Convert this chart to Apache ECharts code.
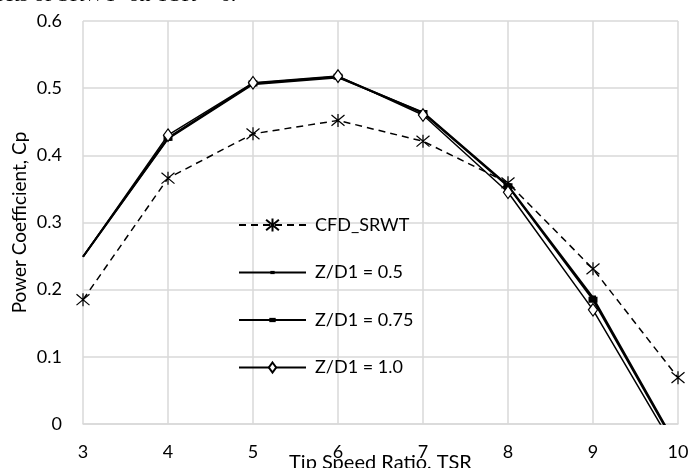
<!DOCTYPE html>
<html>
<head>
<meta charset="utf-8">
<script src="https://cdn.jsdelivr.net/npm/echarts@6/dist/echarts.min.js"></script>
<style>
  html, body { margin: 0; padding: 0; background: #fff; }
  #chart { width: 690px; height: 468px; }
</style>
</head>
<body>
<div id="chart"></div>
<script>
const tsr = [3, 4, 5, 6, 7, 8, 9, 10];
const cfdSrwt = [0.185, 0.366, 0.432, 0.452, 0.421, 0.359, 0.231, 0.069];
const zd05 = [0.249, 0.425, 0.506, 0.516, 0.464, 0.355, 0.188, -0.036];
const zd075 = [0.249, 0.426, 0.507, 0.517, 0.463, 0.354, 0.185, -0.038];
const zd10 = [0.249, 0.430, 0.508, 0.518, 0.460, 0.345, 0.170, -0.045];
const seriesNames = ["CFD_SRWT", "Z/D1 = 0.5", "Z/D1 = 0.75", "Z/D1 = 1.0"];

const font = "Lato, 'Open Sans', sans-serif";
// marker shapes, padded with move-to points so the legend draws them small
const star = "path://M0,0L10,10M10,0L0,10M5,-1L5,11";
const smallDash = "path://M0,0M12,12M4,4.5h4v3h-4z";
const wideDash = "path://M0,0M12,12M3,4h6v4h-6z";
const diamond = "path://M0,0M14,14M7,1.5L11,7L7,12.5L3,7z";

// the Z/D1 curves show no marker at the first point
const pairs = (values, hideFirst) => tsr.map((x, i) =>
  hideFirst && i === 0 ? { value: [x, values[i]], symbol: "none" } : [x, values[i]]);

const chart = echarts.init(document.getElementById("chart"));

chart.setOption({
  animation: false,
  graphic: [
    {
      type: "text",
      left: -6,
      top: -16,
      style: {
        text: "ects of SRWT  on TSR = 6.",
        font: "22px 'Liberation Serif', serif",
        fill: "#000",
      },
    },
  ],
  grid: {
    left: 83,
    right: 12,
    top: 21,
    bottom: 44,
    outerBoundsMode: "none",
    containLabel: false,
  },
  legend: {
    orient: "vertical",
    left: 233,
    top: 211,
    itemWidth: 67,
    itemHeight: 16,
    itemGap: 29.5,
    data: seriesNames,
    textStyle: {
      fontFamily: font,
      fontSize: 18,
      color: "#000",
      padding: [0, 0, 0, 4],
    },
  },
  xAxis: {
    type: "value",
    min: 3,
    max: 10,
    interval: 1,
    name: "Tip Speed Ratio, TSR",
    nameLocation: "middle",
    nameGap: 29,
    nameMoveOverlap: false,
    nameTextStyle: { fontFamily: font, fontSize: 20, color: "#000" },
    axisLine: { lineStyle: { color: "#d9d9d9", width: 1.5 } },
    axisTick: { show: false },
    axisLabel: { fontFamily: font, fontSize: 18, color: "#000", margin: 19 },
    splitLine: { show: true, lineStyle: { color: "#d9d9d9", width: 1.5 } },
  },
  yAxis: {
    type: "value",
    min: 0,
    max: 0.6,
    interval: 0.1,
    name: "Power Coefficient, Cp",
    nameLocation: "middle",
    nameGap: 54,
    nameMoveOverlap: false,
    nameTextStyle: { fontFamily: font, fontSize: 19, color: "#000" },
    axisLine: { show: false },
    axisTick: { show: false },
    axisLabel: { fontFamily: font, fontSize: 18, color: "#000", margin: 21 },
    splitLine: { show: true, lineStyle: { color: "#d9d9d9", width: 1.5 } },
  },
  series: [
    {
      name: seriesNames[0],
      type: "line",
      data: pairs(cfdSrwt, false),
      symbol: star,
      symbolSize: 13,
      lineStyle: { color: "#000", width: 1.5, type: [7, 5] },
      itemStyle: { color: "#fff", borderColor: "#000", borderWidth: 1.2 },
      z: 2,
    },
    {
      name: seriesNames[1],
      type: "line",
      data: pairs(zd05, true),
      symbol: smallDash,
      symbolSize: 18,
      lineStyle: { color: "#000", width: 2 },
      itemStyle: { color: "#000", borderColor: "#000", borderWidth: 0 },
      z: 3,
    },
    {
      name: seriesNames[2],
      type: "line",
      data: pairs(zd075, true),
      symbol: wideDash,
      symbolSize: 18,
      lineStyle: { color: "#000", width: 2 },
      itemStyle: { color: "#000", borderColor: "#000", borderWidth: 0 },
      z: 3,
    },
    {
      name: seriesNames[3],
      type: "line",
      data: pairs(zd10, true),
      symbol: diamond,
      symbolSize: 16,
      lineStyle: { color: "#000", width: 1.5 },
      itemStyle: { color: "#fff", borderColor: "#000", borderWidth: 1.2 },
      z: 4,
    },
  ],
});
</script>
</body>
</html>
